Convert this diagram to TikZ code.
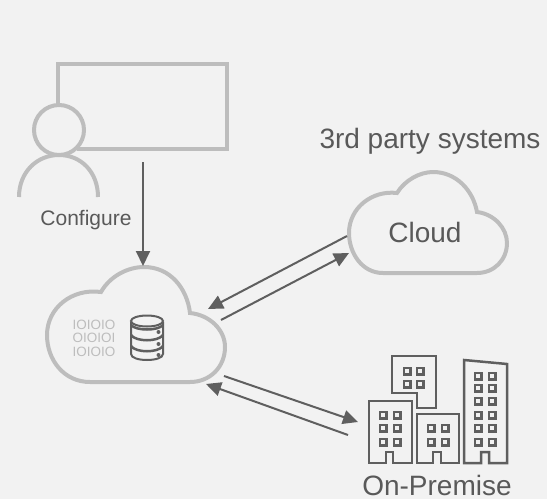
\documentclass[tikz,border=0pt]{standalone}
\usepackage{fontspec}
\setmainfont{Liberation Sans}
\usetikzlibrary{arrows.meta}
\definecolor{bggray}{HTML}{F2F2F2}
\definecolor{lightline}{HTML}{BDBDBD}
\definecolor{darkline}{HTML}{5F5F5F}
\definecolor{labelgray}{HTML}{595959}
\tikzset{
  outline/.style={draw=lightline, line width=4pt},
  flow/.style={draw=darkline, line width=2pt, -{Triangle[length=15pt,width=14pt]}},
  icon/.style={draw=darkline, line width=2.5pt},
  winbox/.style={draw=darkline, line width=2.5pt, minimum size=6.5pt, inner sep=0pt},
  biglabel/.style={text=labelgray, font=\fontsize{28}{30}\selectfont, inner sep=0pt},
  smalllabel/.style={text=labelgray, font=\fontsize{21}{24}\selectfont, inner sep=0pt},
  bits/.style={text=lightline, font=\fontsize{13.5}{13.5}\selectfont, inner sep=0pt}
}
\begin{document}
\begin{tikzpicture}[x=1pt,y=-1pt]
    \useasboundingbox[fill=bggray] (0,0) rectangle (547,499);

    % Define coordinates
    \coordinate (ConfigTop) at (143,162);
    \coordinate (ConfigEnd) at (143,266);
    \coordinate (CloudOutA) at (347,236);
    \coordinate (CloudInA) at (208,309);
    \coordinate (CloudOutB) at (221,320);
    \coordinate (CloudInB) at (349,253);
    \coordinate (PremOutA) at (224,376);
    \coordinate (PremInA) at (358,422);
    \coordinate (PremOutB) at (348,435);
    \coordinate (PremInB) at (206,384);

    % Screen and user
    \draw[outline] (58,105) -- (58,64) -- (227,64) -- (227,149) -- (77,149);
    \draw[outline] (59,130) circle (25);
    \draw[outline] (19,197) .. controls (19,172) and (37,155) .. (59,155)
        .. controls (81,155) and (98,172) .. (98,197);

    % Store cloud
    \draw[outline] (90,382) .. controls (64,382) and (47,360) .. (47,335)
        .. controls (47,308) and (72,288) .. (101,292)
        .. controls (110,276) and (128,267) .. (144,267)
        .. controls (170,267) and (187,288) .. (190,313)
        .. controls (210,315) and (225,330) .. (225,347)
        .. controls (225,367) and (210,382) .. (190,382) -- cycle;

    % Binary digits
    \node[bits] (BitsA) at (94,325) {IOIOIO};
    \node[bits] (BitsB) at (94,338) {OIOIOI};
    \node[bits] (BitsC) at (94,352) {IOIOIO};

    % Database icon
    \draw[icon, line width=2pt] (131,322) -- (131,354) .. controls (131,362) and (163,362) .. (163,354) -- (163,322);
    \draw[icon, line width=2pt] (147,321) ellipse (16 and 5.5);
    \draw[icon] (131,325) .. controls (136,331) and (158,331) .. (163,325);
    \draw[icon] (131,335) .. controls (136,342) and (158,342) .. (163,335);
    \draw[icon] (131,346) .. controls (136,353) and (158,353) .. (163,346);
    \fill[darkline] (158.500,332) circle (2);
    \fill[darkline] (158.500,344) circle (2);
    \fill[darkline] (158.500,355) circle (2);

    % Third party cloud
    \draw[outline] (383,273) .. controls (362,273) and (349,253) .. (349,233)
        .. controls (349,208) and (372,190) .. (397,193)
        .. controls (405,180) and (420,172) .. (433,172)
        .. controls (456,172) and (473,190) .. (477,212)
        .. controls (494,214) and (507,228) .. (507,243)
        .. controls (507,260) and (494,273) .. (477,273) -- cycle;

    % Buildings
    \draw[icon] (392,356) -- (436,356) -- (436,408) -- (417,408) -- (417,393) -- (392,393) -- cycle;
    \draw[icon] (369,463) -- (369,401) -- (412,401) -- (412,463) -- (393,463) -- (393,452) -- (386,452) -- (386,463) -- cycle;
    \draw[icon] (417,463) -- (417,414) -- (459,414) -- (459,463) -- (441,463) -- (441,452) -- (433,452) -- (433,463) -- cycle;
    \draw[icon] (464,463) -- (464,360) -- (507,364) -- (507,463) -- (489,463) -- (489,452) -- (481,452) -- (481,463) -- cycle;
    \foreach \px in {407,420} \foreach \py in {371,384}
        \node[winbox] (WinT\px\py) at (\px,\py) {};
    \foreach \px in {383,397} \foreach \py in {415,428,442}
        \node[winbox] (WinL\px\py) at (\px,\py) {};
    \foreach \px in {431,445} \foreach \py in {428,442}
        \node[winbox] (WinM\px\py) at (\px,\py) {};
    \foreach \px in {478,492} \foreach \py in {376,388,401,415,428,442}
        \node[winbox] (WinR\px\py) at (\px,\py) {};

    % Draw arrows
    \draw[flow] (ConfigTop) -- (ConfigEnd);
    \draw[flow] (CloudOutA) -- (CloudInA);
    \draw[flow] (CloudOutB) -- (CloudInB);
    \draw[flow] (PremOutA) -- (PremInA);
    \draw[flow] (PremOutB) -- (PremInB);

    % Labels
    \node[smalllabel] (ConfigLabel) at (86,220) {Configure};
    \node[biglabel] (SystemsLabel) at (430,141) {3rd party systems};
    \node[biglabel] (CloudLabel) at (425,232) {Cloud};
    \node[biglabel] (PremLabel) at (437,485) {On-Premise};
\end{tikzpicture}
\end{document}
